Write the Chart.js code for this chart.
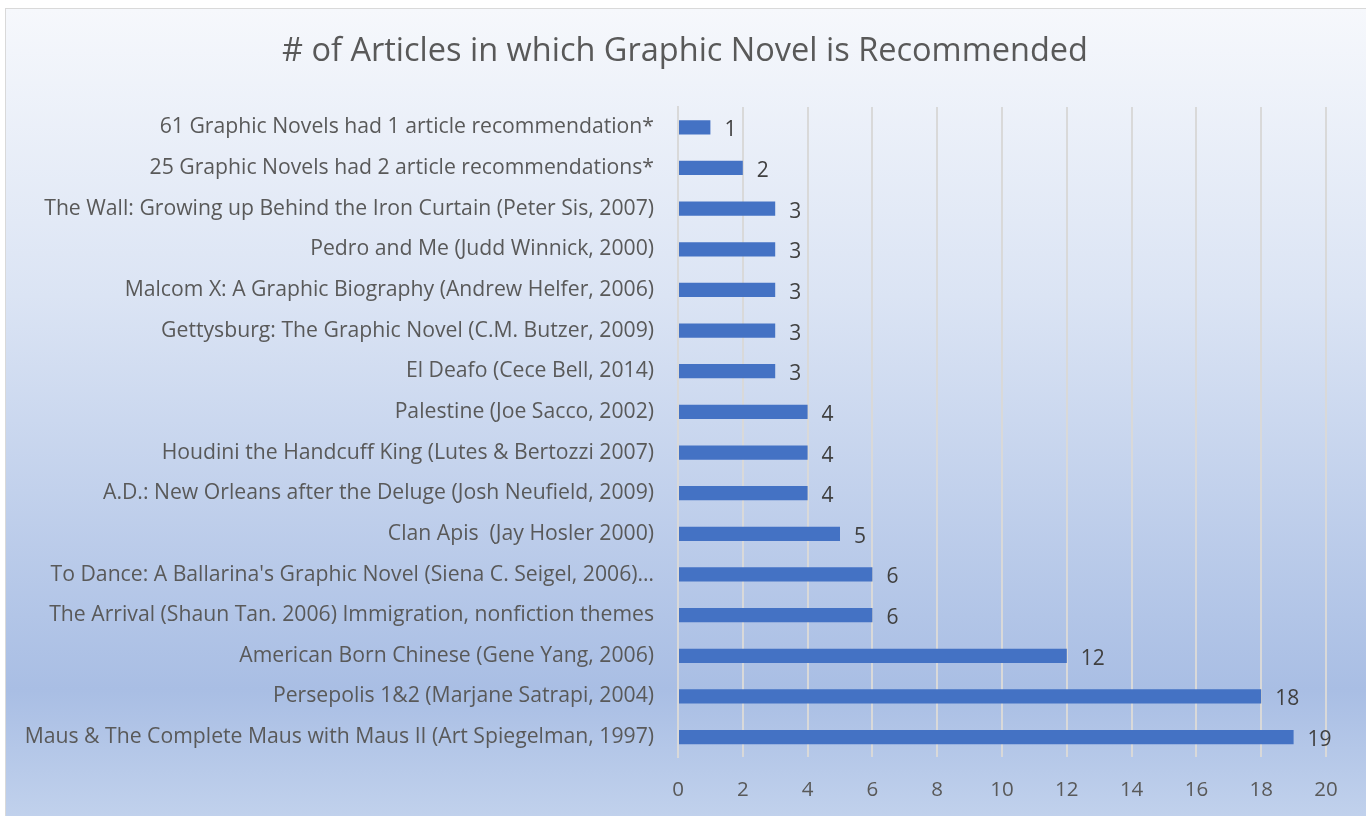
<!DOCTYPE html>
<html>
<head>
<meta charset="utf-8">
<script src="https://cdn.jsdelivr.net/npm/chart.js@4.4.1/dist/chart.umd.min.js"></script>
<style>
  html, body { margin: 0; padding: 0; background: #fff; overflow: hidden; }
  #box {
    position: absolute; left: 5px; top: 8px; width: 1370px; height: 820px;
    border: 1px solid #d9d9d9;
    background: linear-gradient(to bottom, #f6f8fc 0%, #dbe4f4 35%, #b2c5e7 74%, #a9bee4 83%, #c3d3ed 100%);
  }
  #wrap { position: absolute; left: 0; top: 0; width: 1366px; height: 816px; }
</style>
</head>
<body>
<div id="box"></div>
<div id="wrap"><canvas id="chart" width="1366" height="816"></canvas></div>
<script>
const titleText = '# of Articles in which Graphic Novel is Recommended';

// top to bottom, as in the picture
const novels = [
  '61 Graphic Novels had 1 article recommendation*',
  '25 Graphic Novels had 2 article recommendations*',
  'The Wall: Growing up Behind the Iron Curtain (Peter Sis, 2007)',
  'Pedro and Me (Judd Winnick, 2000)',
  'Malcom X: A Graphic Biography (Andrew Helfer, 2006)',
  'Gettysburg: The Graphic Novel (C.M. Butzer, 2009)',
  'El Deafo (Cece Bell, 2014)',
  'Palestine (Joe Sacco, 2002)',
  'Houdini the Handcuff King (Lutes & Bertozzi 2007)',
  'A.D.: New Orleans after the Deluge (Josh Neufield, 2009)',
  'Clan Apis  (Jay Hosler 2000)',
  "To Dance: A Ballarina's Graphic Novel (Siena C. Seigel, 2006)…",
  'The Arrival (Shaun Tan. 2006) Immigration, nonfiction themes',
  'American Born Chinese (Gene Yang, 2006)',
  'Persepolis 1&2 (Marjane Satrapi, 2004)',
  'Maus & The Complete Maus with Maus II (Art Spiegelman, 1997)'
];
const articleCounts = [1, 2, 3, 3, 3, 3, 3, 4, 4, 4, 5, 6, 6, 12, 18, 19];
const xTicks = [0, 2, 4, 6, 8, 10, 12, 14, 16, 18, 20];

const labelFont = '"Open Sans", sans-serif';

// chart title, centred over the whole box like the original
const boxTitle = {
  id: 'boxTitle',
  afterDraw(chart) {
    const ctx = chart.ctx;
    ctx.save();
    ctx.font = '32.5px ' + labelFont;
    ctx.fillStyle = '#595959';
    ctx.textAlign = 'center';
    ctx.textBaseline = 'middle';
    ctx.fillText(titleText, 685, 52);
    ctx.restore();
  }
};

// draws the value next to each bar
const valueLabels = {
  id: 'valueLabels',
  afterDatasetsDraw(chart) {
    const ctx = chart.ctx;
    const meta = chart.getDatasetMeta(0);
    ctx.save();
    ctx.font = '21px ' + labelFont;
    ctx.fillStyle = '#404040';
    ctx.textAlign = 'left';
    ctx.textBaseline = 'middle';
    meta.data.forEach(function (bar, i) {
      ctx.fillText(String(articleCounts[i]), bar.x + 14, bar.y + 3);
    });
    ctx.restore();
  }
};

const ctx = document.getElementById('chart');
new Chart(ctx, {
  type: 'bar',
  data: {
    labels: novels,
    datasets: [{
      data: articleCounts,
      backgroundColor: '#4472c4',
      borderWidth: 0,
      barPercentage: 0.35,
      categoryPercentage: 1
    }]
  },
  options: {
    indexAxis: 'y',
    responsive: false,
    animation: false,
    layout: { padding: { left: 0, right: 40, top: 107, bottom: -6 } },
    plugins: {
      legend: { display: false },
      tooltip: { enabled: false },
      title: { display: false }
    },
    scales: {
      x: {
        min: 0,
        max: 20,
        afterBuildTicks(scale) {
          scale.ticks = xTicks.map(v => ({ value: v }));
        },
        grid: { color: '#d9d9d9', lineWidth: 2, drawTicks: false },
        border: { display: false },
        ticks: {
          color: '#595959',
          font: { family: labelFont, size: 20.5 },
          padding: 20
        }
      },
      y: {
        grid: { display: false },
        border: { color: '#d9d9d9', width: 2 },
        afterFit(scale) { scale.width = 678; },
        ticks: {
          color: '#595959',
          font: { family: labelFont, size: 21.2 },
          padding: 16,
          autoSkip: false
        }
      }
    }
  },
  plugins: [valueLabels, boxTitle]
});
</script>
</body>
</html>
